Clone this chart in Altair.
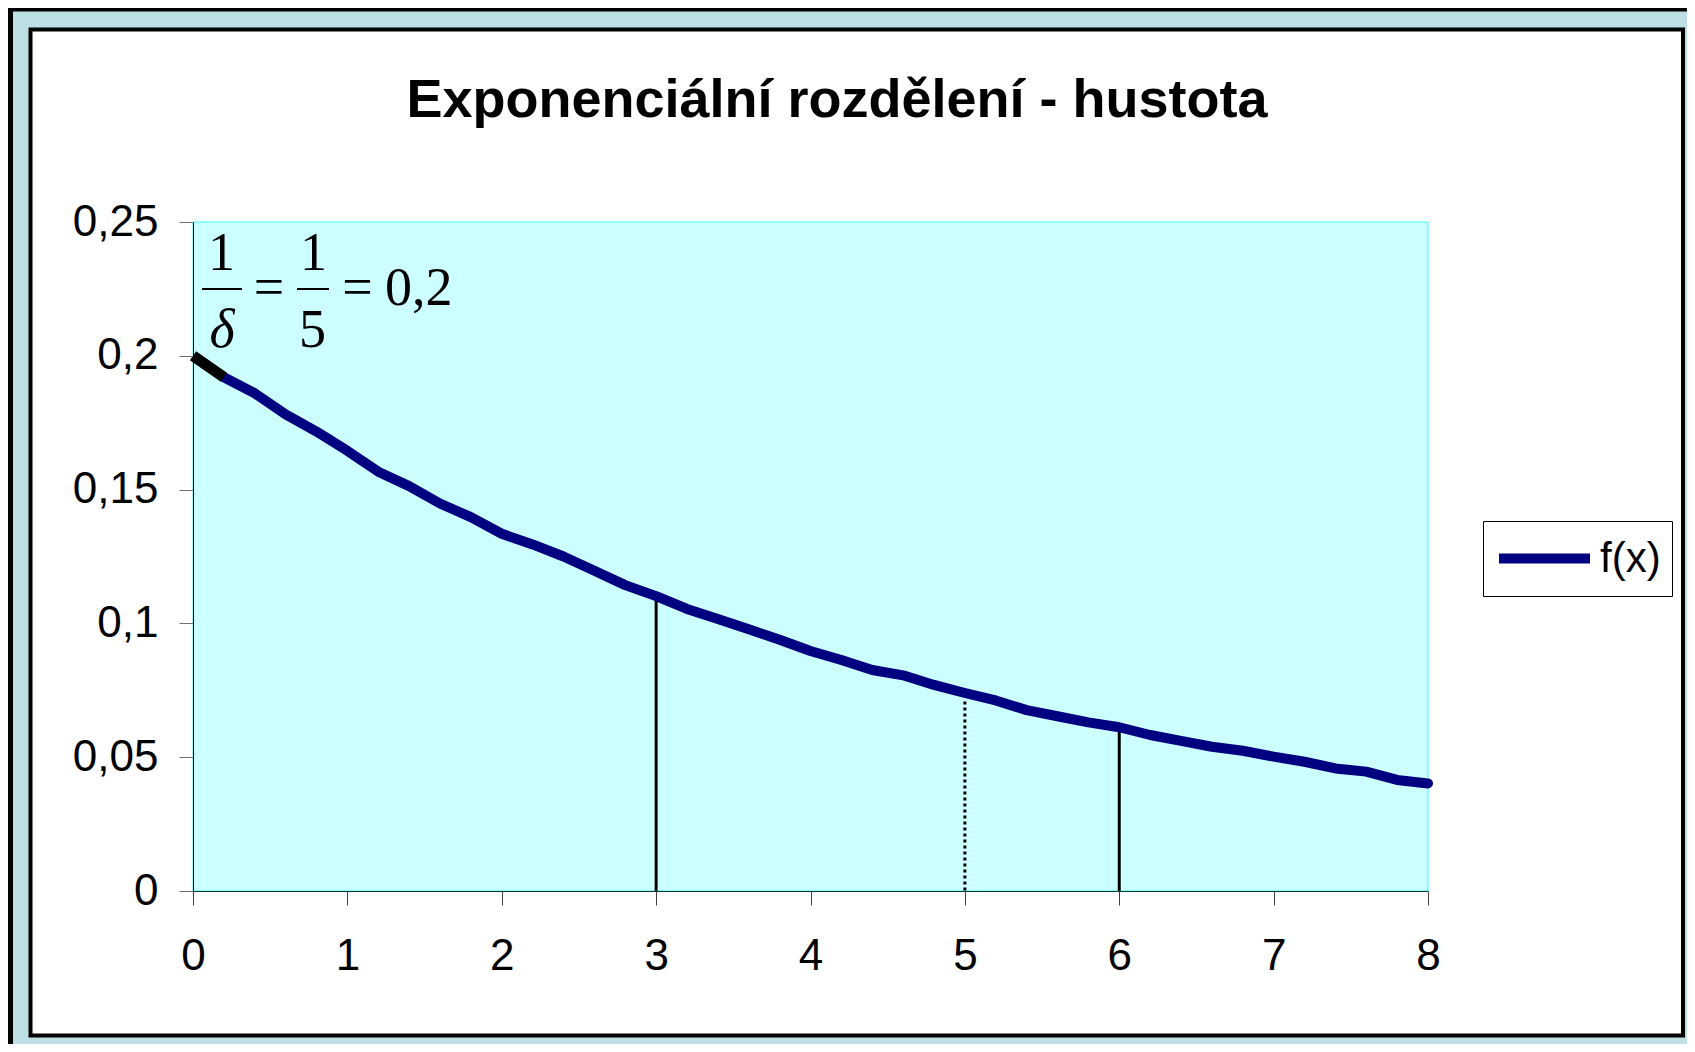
import altair as alt
import pandas as pd

# ---- data ----
X_VALUES = [0.2, 0.4, 0.6, 0.8, 1.0, 1.2, 1.4, 1.6, 1.8, 2.0,
            2.2, 2.4, 2.6, 2.8, 3.0, 3.2, 3.4, 3.6, 3.8, 4.0,
            4.2, 4.4, 4.6, 4.8, 5.0, 5.2, 5.4, 5.6, 5.8, 6.0,
            6.2, 6.4, 6.6, 6.8, 7.0, 7.2, 7.4, 7.6, 7.8, 8.0]
F_VALUES = [0.1920, 0.1860, 0.1781, 0.1717, 0.1645, 0.1567, 0.1513, 0.1448, 0.1397, 0.1335,
            0.1295, 0.1250, 0.1197, 0.1143, 0.1102, 0.1054, 0.1016, 0.0978, 0.0939, 0.0897,
            0.0863, 0.0826, 0.0806, 0.0770, 0.0740, 0.0712, 0.0676, 0.0653, 0.0630, 0.0612,
            0.0583, 0.0561, 0.0539, 0.0524, 0.0502, 0.0483, 0.0458, 0.0446, 0.0415, 0.0402]
START_X = [0.0, 0.2]
START_Y = [0.2, 0.192]
SOLID_X = [3, 6]
SOLID_TOP = [0.1100, 0.0612]
DOTTED_X = [5]
DOTTED_TOP = [0.0708]
X_TICKS = [0, 1, 2, 3, 4, 5, 6, 7, 8]
Y_TICKS = [0, 0.05, 0.1, 0.15, 0.2, 0.25]
SERIES = "f(x)"
TITLE = "Exponenciální rozdělení - hustota"

W, H = 1235, 669
SANS = "Liberation Sans, Arial, sans-serif"
SERIF = "Liberation Serif, Times New Roman, serif"

df = pd.DataFrame({"x": X_VALUES, "y": F_VALUES, "s": SERIES})
df_start = pd.DataFrame({"x": START_X, "y": START_Y})
df_solid = pd.DataFrame({"x": SOLID_X, "top": SOLID_TOP})
df_dot = pd.DataFrame({"x": DOTTED_X, "top": DOTTED_TOP})
one = pd.DataFrame({"a": [0]})

xscale = alt.Scale(domain=[0, 8], nice=False, zero=False)
yscale = alt.Scale(domain=[0, 0.25], nice=False)

x_axis = alt.Axis(values=X_TICKS, format="d", title=None, grid=False, tickSize=14, tickColor="#404040",
                  domainColor="#103a3a", labelFontSize=44, labelFont=SANS, labelColor="black",
                  labelPadding=29, zindex=1, labelFlush=False)
y_axis = alt.Axis(values=Y_TICKS, title=None, grid=False, tickSize=14, tickColor="#707070",
                  domainColor="black", labelFontSize=44, labelFont=SANS, labelColor="black",
                  labelPadding=21, zindex=1, labelExpr="replace(toString(datum.value), '.', ',')")

# decorative frames
outer = alt.Chart(one).mark_rect(filled=False, stroke="black", strokeWidth=5).encode(
    x=alt.value(-182.5), x2=alt.value(1800), y=alt.value(-213), y2=alt.value(1100))
inner = alt.Chart(one).mark_rect(fill="white", stroke="black", strokeWidth=4).encode(
    x=alt.value(-162.5), x2=alt.value(1490), y=alt.value(-192.5), y2=alt.value(813.5))
plotbg = alt.Chart(one).mark_rect(fill="#CCFFFF", stroke="#33FFFF", strokeWidth=1).encode(
    x=alt.value(0), x2=alt.value(W), y=alt.value(0), y2=alt.value(H))

title = alt.Chart(one).mark_text(text=TITLE, font=SANS, fontSize=54, fontWeight="bold",
                                 align="center", baseline="alphabetic", color="black").encode(
    x=alt.value(644), y=alt.value(-105))

solid = alt.Chart(df_solid).mark_rule(color="black", strokeWidth=3).encode(
    x=alt.X("x:Q", scale=xscale, axis=x_axis),
    y=alt.Y("top:Q", scale=yscale, axis=y_axis),
    y2=alt.datum(0))
dotted = alt.Chart(df_dot).mark_rule(color="black", strokeWidth=3, strokeDash=[3, 3]).encode(
    x=alt.X("x:Q", scale=xscale), y=alt.Y("top:Q", scale=yscale), y2=alt.datum(0))

line = alt.Chart(df).mark_line(strokeWidth=10, strokeCap="round", strokeJoin="round").encode(
    x=alt.X("x:Q", scale=xscale, axis=x_axis),
    y=alt.Y("y:Q", scale=yscale, axis=y_axis),
    color=alt.Color("s:N", scale=alt.Scale(domain=[SERIES], range=["#000080"]),
                    legend=alt.Legend(orient="none", legendX=1290, legendY=299, title=None,
                                      symbolType="stroke", symbolSize=8281, symbolStrokeWidth=10,
                                      labelFontSize=42, labelFont=SANS, labelColor="black",
                                      labelOffset=5, fillColor="white", strokeColor="black",
                                      padding=11, clipHeight=53)))
start = alt.Chart(df_start).mark_line(strokeWidth=11, color="black").encode(
    x=alt.X("x:Q", scale=xscale), y=alt.Y("y:Q", scale=yscale))


def txt(t, x, y, align="center", style="normal"):
    return alt.Chart(one).mark_text(text=t, font=SERIF, fontSize=54, fontStyle=style,
                                    align=align, baseline="alphabetic", color="black").encode(
        x=alt.value(x), y=alt.value(y))


def bar(x1, x2, y):
    return alt.Chart(one).mark_rule(color="black", strokeWidth=2).encode(
        x=alt.value(x1), x2=alt.value(x2), y=alt.value(y))


formula = [
    txt("1", 28.5, 48), bar(9, 49, 67), txt("δ", 29, 125, style="italic"),
    txt("=", 76, 83),
    txt("1", 120.5, 48), bar(104, 136, 67), txt("5", 119.5, 125),
    txt("=", 164.5, 83),
    txt("0,2", 192, 83, align="left"),
]

chart = alt.layer(outer, inner, plotbg, title, solid, dotted, line, start, *formula).properties(
    width=W, height=H,
    autosize=alt.AutoSizeParams(type="none"),
    padding={"left": 185, "top": 214, "right": 259, "bottom": 153},
).configure(background="#BCE0E3").configure_view(stroke=None, fill=None)

chart.save("out.html", embed_options={"renderer": "svg", "actions": False})
